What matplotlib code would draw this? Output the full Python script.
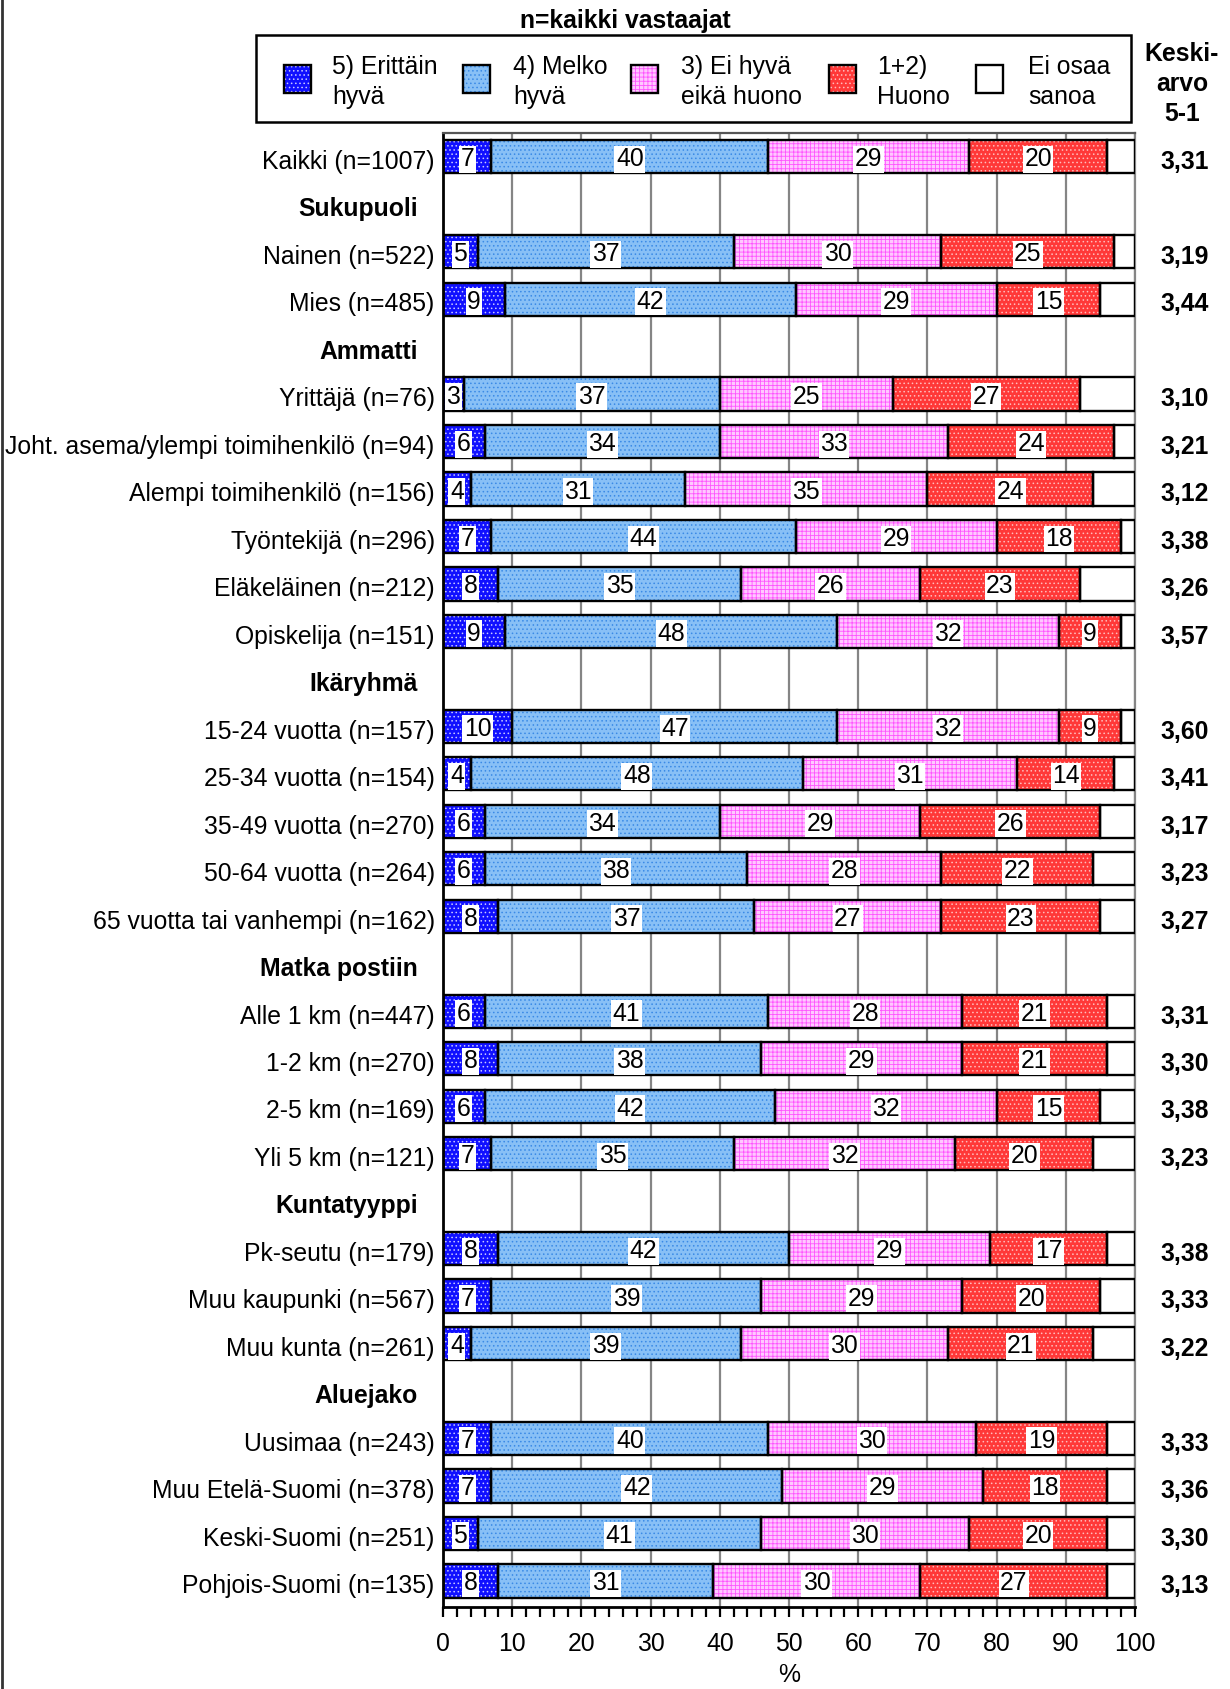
import numpy as np
import matplotlib
matplotlib.use("Agg")
import matplotlib.pyplot as plt
from matplotlib.patches import Rectangle
from matplotlib.lines import Line2D
from matplotlib.transforms import ScaledTranslation
from matplotlib.ticker import MultipleLocator

plt.rcParams['font.family'] = ['Liberation Sans', 'DejaVu Sans']
plt.rcParams['hatch.linewidth'] = 0.6

nan = np.nan

# Row labels (group headings have no values)
categories = [
    "Kaikki (n=1007)", "Sukupuoli", "Nainen (n=522)", "Mies (n=485)",
    "Ammatti", "Yrittäjä (n=76)", "Joht. asema/ylempi toimihenkilö (n=94)",
    "Alempi toimihenkilö (n=156)", "Työntekijä (n=296)", "Eläkeläinen (n=212)",
    "Opiskelija (n=151)", "Ikäryhmä", "15-24 vuotta (n=157)", "25-34 vuotta (n=154)",
    "35-49 vuotta (n=270)", "50-64 vuotta (n=264)", "65 vuotta tai vanhempi (n=162)",
    "Matka postiin", "Alle 1 km (n=447)", "1-2 km (n=270)", "2-5 km (n=169)",
    "Yli 5 km (n=121)", "Kuntatyyppi", "Pk-seutu (n=179)", "Muu kaupunki (n=567)",
    "Muu kunta (n=261)", "Aluejako", "Uusimaa (n=243)", "Muu Etelä-Suomi (n=378)",
    "Keski-Suomi (n=251)", "Pohjois-Suomi (n=135)",
]
headers = ["Sukupuoli", "Ammatti", "Ikäryhmä", "Matka postiin", "Kuntatyyppi", "Aluejako"]

# Shares (%) per answer class
erittain_hyva = [7, nan, 5, 9, nan, 3, 6, 4, 7, 8, 9, nan, 10, 4, 6, 6, 8,
                 nan, 6, 8, 6, 7, nan, 8, 7, 4, nan, 7, 7, 5, 8]
melko_hyva = [40, nan, 37, 42, nan, 37, 34, 31, 44, 35, 48, nan, 47, 48, 34, 38, 37,
              nan, 41, 38, 42, 35, nan, 42, 39, 39, nan, 40, 42, 41, 31]
ei_hyva_eika_huono = [29, nan, 30, 29, nan, 25, 33, 35, 29, 26, 32, nan, 32, 31, 29, 28, 27,
                      nan, 28, 29, 32, 32, nan, 29, 29, 30, nan, 30, 29, 30, 30]
huono = [20, nan, 25, 15, nan, 27, 24, 24, 18, 23, 9, nan, 9, 14, 26, 22, 23,
         nan, 21, 21, 15, 20, nan, 17, 20, 21, nan, 19, 18, 20, 27]

# Mean on the 5-1 scale
keskiarvo = [3.31, nan, 3.19, 3.44, nan, 3.10, 3.21, 3.12, 3.38, 3.26, 3.57, nan,
             3.60, 3.41, 3.17, 3.23, 3.27, nan, 3.31, 3.30, 3.38, 3.23, nan,
             3.38, 3.33, 3.22, nan, 3.33, 3.36, 3.30, 3.13]

series_names = ["5) Erittäin\nhyvä", "4) Melko\nhyvä", "3) Ei hyvä\neikä huono",
                "1+2)\nHuono", "Ei osaa\nsanoa"]

# Fill styles: face colour, hatch, hatch colour
styles = [
    dict(fc="#1010ff", hatch="....", hc="#c8c8ff"),
    dict(fc="#88c0f6", hatch="....", hc="#3a8ae6"),
    dict(fc="#ffc8ff", hatch="++++", hc="#ff55ff"),
    dict(fc="#ff3838", hatch="....", hc="#ffbcbc"),
    dict(fc="#ffffff", hatch=None, hc="#ffffff"),
]

FS = 17.8
W, H = 1230, 1689


def fx(x):
    return x / W


def fy(y):
    return 1 - y / H


fig = plt.figure(figsize=(W / 100, H / 100), dpi=100)
ax = fig.add_axes([fx(443), fy(1607), (1135 - 443) / W, (1607 - 133) / H])
down = ScaledTranslation(0, -2 / 72, fig.dpi_scale_trans)

y = np.arange(len(categories))
vals = np.array([erittain_hyva, melko_hyva, ei_hyva_eika_huono, huono], dtype=float)
rest = 100 - np.nansum(vals, axis=0)
rest[np.isnan(vals[0])] = nan
segments = list(vals) + [rest]

bar_h = 0.70
left = np.zeros(len(categories))
for i, seg in enumerate(segments):
    st = styles[i]
    mask = ~np.isnan(seg)
    ax.barh(y[mask], seg[mask], left=left[mask], height=bar_h, color=st["fc"],
            hatch=st["hatch"], edgecolor=st["hc"], linewidth=0, zorder=2)
    ax.barh(y[mask], seg[mask], left=left[mask], height=bar_h, fill=False,
            edgecolor="black", linewidth=1.7, zorder=3)
    if i < 4:
        for yy, ll, ww in zip(y[mask], left[mask], seg[mask]):
            ax.text(ll + ww / 2, yy, f"{int(ww)}", ha="center", va="center_baseline",
                    fontsize=FS, zorder=4,
                    bbox=dict(boxstyle="square,pad=0.06", fc="white", ec="none"))
    left[mask] += seg[mask]

# Mean column
for yy, m in zip(y, keskiarvo):
    if not np.isnan(m):
        ax.text(1.072, yy, f"{m:.2f}".replace(".", ","),
                transform=ax.get_yaxis_transform() + down,
                ha="center", va="center_baseline", fontsize=FS, fontweight="bold")

ax.set_xlim(0, 100)
ax.set_ylim(30.55, -0.5)
ax.xaxis.set_major_locator(MultipleLocator(10))
ax.xaxis.set_minor_locator(MultipleLocator(2))
ax.set_axisbelow(True)
ax.grid(axis="x", which="major", color="#858585", linewidth=1.6, zorder=0)
ax.tick_params(axis="x", which="both", direction="out", length=7, width=1.6,
               color="black", labelsize=FS, pad=11)
ax.set_xlabel("%", fontsize=FS, labelpad=5)

ax.set_yticks(y)
ax.set_yticklabels(categories, fontsize=FS)
ax.tick_params(axis="y", length=0, pad=6)
shift = ScaledTranslation(-12 / 72, 0, fig.dpi_scale_trans)
for lab in ax.get_yticklabels():
    if lab.get_text() in headers:
        lab.set_fontweight("bold")
        lab.set_transform(lab.get_transform() + shift + down)
    else:
        lab.set_transform(lab.get_transform() + down)

for side, col, lw in [("left", "black", 2.0), ("bottom", "black", 2.0),
                      ("top", "#555555", 1.6), ("right", "#858585", 1.6)]:
    ax.spines[side].set_color(col)
    ax.spines[side].set_linewidth(lw)

# Title
fig.text(fx(625), fy(21), "n=kaikki vastaajat", ha="center", va="center",
         fontsize=FS, fontweight="bold")

# Legend box
fig.add_artist(Rectangle((fx(256), fy(122)), (1131 - 256) / W, (122 - 34.5) / H,
                         transform=fig.transFigure, fill=False, edgecolor="black",
                         linewidth=1.8))
sq_x = [297, 476, 644, 842, 989]
tx_x = [332, 513, 681, 877, 1028]
sq = 27
for i, name in enumerate(series_names):
    st = styles[i]
    r0 = (fx(sq_x[i] - sq / 2), fy(79 + sq / 2))
    fig.add_artist(Rectangle(r0, sq / W, sq / H, transform=fig.transFigure,
                             facecolor=st["fc"], hatch=st["hatch"], edgecolor=st["hc"],
                             linewidth=0))
    fig.add_artist(Rectangle(r0, sq / W, sq / H, transform=fig.transFigure,
                             fill=False, edgecolor="black", linewidth=1.7))
    fig.text(fx(tx_x[i]), fy(82), name, ha="left", va="center", fontsize=FS,
             linespacing=1.32)

# Mean column heading
fig.text(fx(1182), fy(84), "Keski-\narvo\n5-1", ha="center", va="center",
         fontsize=FS, fontweight="bold", linespacing=1.34)

# Outer frame edge
fig.add_artist(Line2D([fx(2), fx(2)], [0, 1], transform=fig.transFigure,
                      color="#333333", linewidth=2))

fig.savefig("out.png", dpi=100)
